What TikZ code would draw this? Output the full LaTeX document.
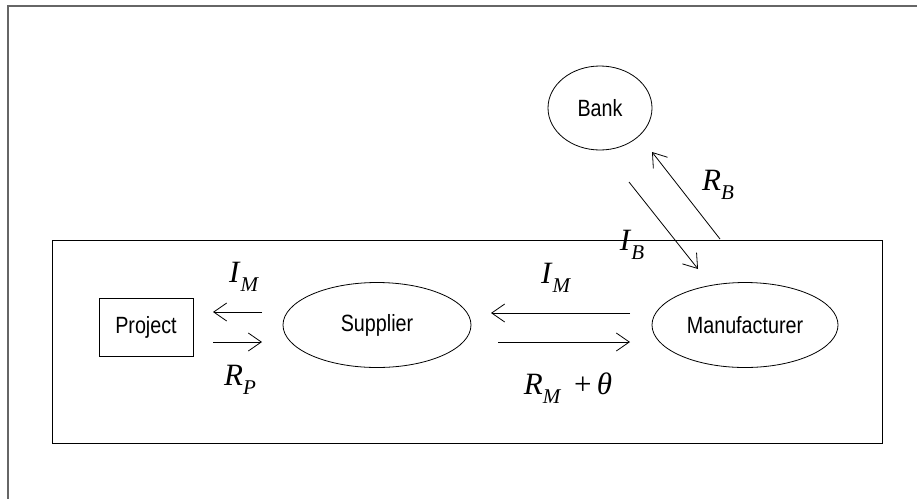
\documentclass[tikz,border=0pt]{standalone}
\usepackage{fontspec}
\setmainfont{Liberation Serif}
\newfontfamily\arialfont[FakeStretch=0.84]{Liberation Sans}
\usetikzlibrary{arrows.meta,shapes.geometric}
\newcommand{\sublab}[2]{\fontsize{31}{33}\selectfont\textit{#1}\raisebox{-9pt}{\fontsize{21}{23}\selectfont\textit{#2}}}
\begin{document}
\begin{tikzpicture}[x=1pt,y=-1pt,
 ell/.style={draw,ellipse,line width=0.8pt,inner sep=0pt,font=\arialfont\fontsize{23.5}{26}\selectfont},
 boxnode/.style={draw,rectangle,line width=0.8pt,inner sep=0pt,font=\arialfont\fontsize{23.5}{26}\selectfont},
 flow/.style={line width=0.8pt,-{Straight Barb[length=13pt,width=18pt]}},
 lab/.style={inner sep=0pt}]
\useasboundingbox (0,0) rectangle (917,499);
\draw[gray!80!black,line width=1.6pt] (917,6) coordinate (ftr) -- (8,6) coordinate (ftl) -- (8,499) coordinate (fbl);
\node[draw,line width=0.9pt,minimum width=830pt,minimum height=203pt,inner sep=0pt] (frame) at (467,341.5) {};
\node[ell,minimum width=104pt,minimum height=84pt] (bank) at (600,108) {Bank};
\node[ell,minimum width=188pt,minimum height=85pt] (sup) at (377,325) {Supplier};
\node[ell,minimum width=186pt,minimum height=85pt] (man) at (745,325) {Manufacturer};
\node[boxnode,minimum width=94pt,minimum height=58pt] (proj) at (146,327) {Project};
% arrow ends
\coordinate (a1s) at (262,312); \coordinate (a1e) at (213,312);
\coordinate (a2s) at (213,342); \coordinate (a2e) at (262,342);
\coordinate (a3s) at (630,313); \coordinate (a3e) at (491,313);
\coordinate (a4s) at (498,342); \coordinate (a4e) at (630,342);
\coordinate (a5s) at (629,182); \coordinate (a5e) at (698,269);
\coordinate (a6s) at (720,239); \coordinate (a6e) at (652,152);
\draw[flow] (a1s) -- (a1e);
\draw[flow] (a2s) -- (a2e);
\draw[flow] (a3s) -- (a3e);
\draw[flow] (a4s) -- (a4e);
\draw[flow] (a5s) -- (a5e);
\draw[flow] (a6s) -- (a6e);
% labels
\node[lab] (l1) at (244,277) {\sublab{I}{M}};
\node[lab] (l2) at (240,380) {\sublab{R}{P}};
\node[lab] (l3) at (556,278) {\sublab{I}{M}};
\node[lab] (l4) at (568,388) {\sublab{R}{M}\fontsize{31}{33}\selectfont\ \,+\,\textit{θ}};
\node[lab] (l5) at (718,185) {\sublab{R}{B}};
\node[lab] (l6) at (632,245) {\sublab{I}{B}};
\end{tikzpicture}
\end{document}
